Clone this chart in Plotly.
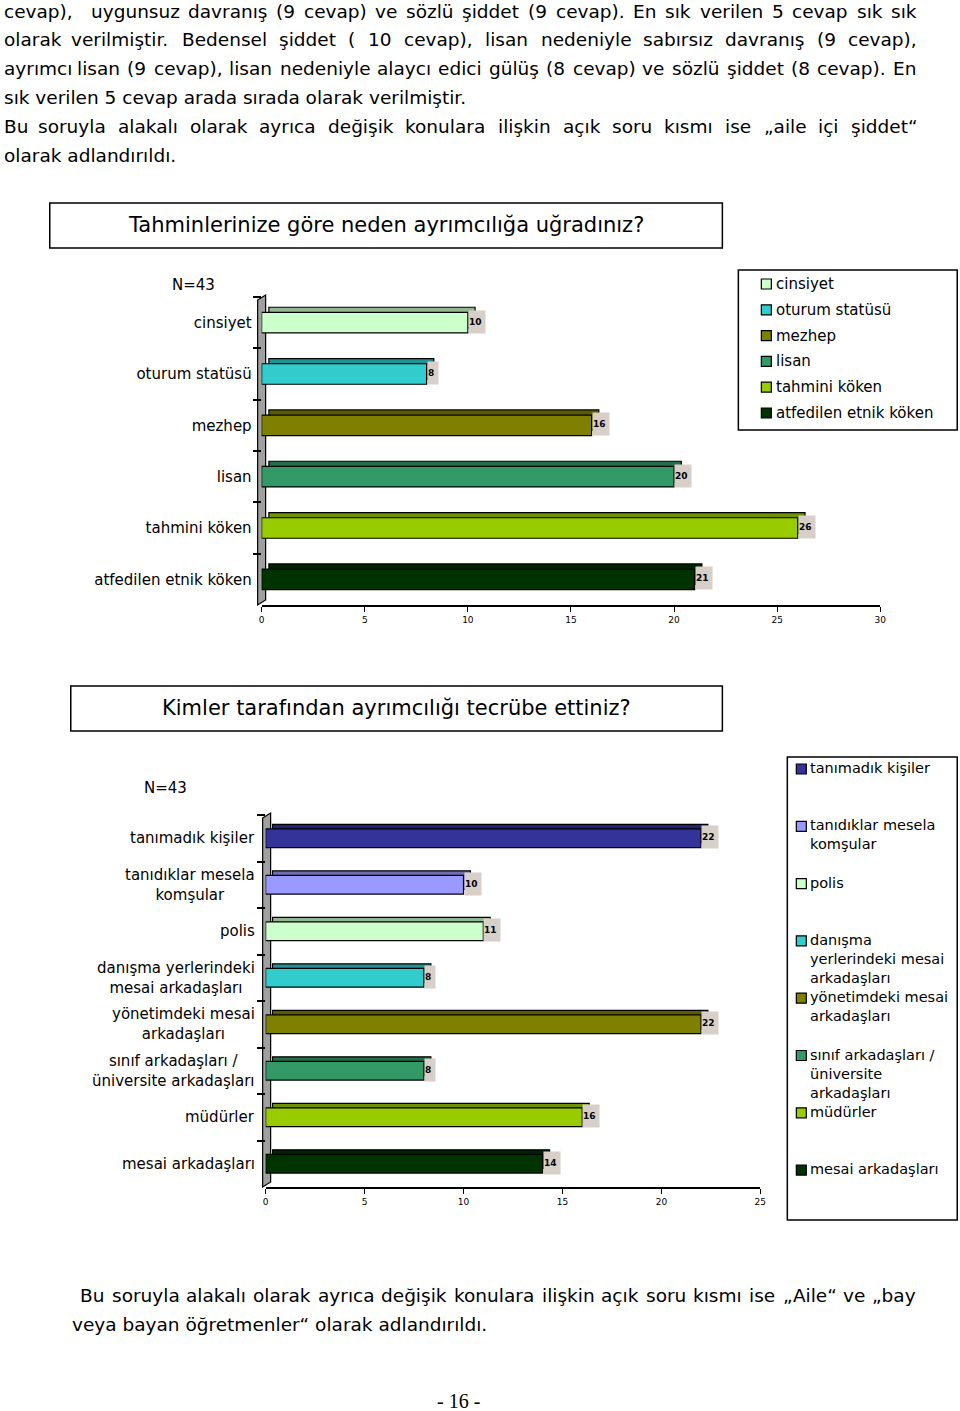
import plotly.graph_objects as go

W, H = 960, 1411      # reference page size (layout coordinates)
FIG_W = 968           # written figure width
SX, OX = 0.9913, 2.2  # measured page->picture horizontal mapping, compensated below

# ---------------- data ----------------
cat1 = ["cinsiyet", "oturum statüsü", "mezhep", "lisan", "tahmini köken", "atfedilen etnik köken"]
val1 = [10, 8, 16, 20, 26, 21]
col1 = ["#CCFFCC", "#33CCCC", "#808000", "#339966", "#99CC00", "#003300"]
ticks1 = [0, 5, 10, 15, 20, 25, 30]
title1 = "Tahminlerinize göre neden ayrımcılığa uğradınız?"

cat2 = ["tanımadık kişiler", "tanıdıklar mesela komşular", "polis",
        "danışma yerlerindeki mesai arkadaşları", "yönetimdeki mesai arkadaşları",
        "sınıf arkadaşları / üniversite arkadaşları", "müdürler", "mesai arkadaşları"]
lab2 = ["tanımadık kişiler", "tanıdıklar mesela<br>komşular", "polis",
        "danışma yerlerindeki<br>mesai arkadaşları", "yönetimdeki mesai<br>arkadaşları",
        "sınıf arkadaşları /<br>üniversite arkadaşları", "müdürler", "mesai arkadaşları"]
leg2 = ["tanımadık kişiler", "tanıdıklar mesela<br>komşular", "polis",
        "danışma<br>yerlerindeki mesai<br>arkadaşları", "yönetimdeki mesai<br>arkadaşları",
        "sınıf arkadaşları /<br>üniversite<br>arkadaşları", "müdürler", "mesai arkadaşları"]
val2 = [22, 10, 11, 8, 22, 8, 16, 14]
col2 = ["#333399", "#9999FF", "#CCFFCC", "#33CCCC", "#808000", "#339966", "#99CC00", "#003300"]
ticks2 = [0, 5, 10, 15, 20, 25]
title2 = "Kimler tarafından ayrımcılığı tecrübe ettiniz?"
n_label = "N=43"

# (text, justified?)
top_lines = [
    ("cevap),\u00a0\u00a0 uygunsuz davranış (9 cevap) ve sözlü şiddet (9 cevap). En sık verilen 5 cevap sık sık", True),
    ("olarak verilmiştir. Bedensel şiddet ( 10 cevap), lisan nedeniyle sabırsız davranış (9 cevap),", True),
    ("ayrımcı lisan (9 cevap), lisan nedeniyle alaycı edici gülüş (8 cevap) ve sözlü şiddet (8 cevap). En", True),
    ("sık verilen 5 cevap arada sırada olarak verilmiştir.", False),
    ("Bu soruyla alakalı olarak ayrıca değişik konulara ilişkin açık soru kısmı ise „aile içi şiddet“", True),
    ("olarak adlandırıldı.", False),
]
bottom_lines = [
    ("Bu soruyla alakalı olarak ayrıca değişik konulara ilişkin açık soru kısmı ise „Aile“ ve „bay", True),
    ("veya bayan öğretmenler“ olarak adlandırıldı.", False),
]
page_no = "- 16 -"

# ---------------- helpers ----------------
def px(x):
    return max(0.0, (x - OX) / SX) / FIG_W

def py(y):
    return 1 - y / H

def darken(hx, f=0.72):
    r, g, b = int(hx[1:3], 16), int(hx[3:5], 16), int(hx[5:7], 16)
    return "#%02X%02X%02X" % (int(r * f), int(g * f), int(b * f))

# approximate DejaVu Sans advance widths (units per 2048 em) for text justification
ADV = {' ': 651, '\u00a0': 651, '(': 799, ')': 799, ',': 651, '.': 651, '/': 690, '-': 739,
       '„': 1032, '“': 1032, '"': 942,
       'a': 1255, 'b': 1300, 'c': 1126, 'd': 1300, 'e': 1260, 'f': 721, 'g': 1300, 'h': 1298,
       'i': 569, 'ı': 569, 'j': 569, 'k': 1186, 'l': 569, 'm': 1995, 'n': 1298, 'o': 1253,
       'p': 1300, 'q': 1300, 'r': 842, 's': 1067, 'ş': 1067, 't': 803, 'u': 1298, 'ü': 1298,
       'v': 1212, 'w': 1675, 'x': 1212, 'y': 1212, 'z': 1075, 'ö': 1253, 'ç': 1126, 'ğ': 1300,
       'A': 1401, 'B': 1405, 'E': 1294}

def text_w(s, size):
    return SX * sum(ADV.get(ch, 1303 if ch.isdigit() else 1250) for ch in s) * size / 2048.0

AX_FONT = "DejaVu Sans, Verdana, sans-serif"
BODY_FONT = "DejaVu Sans, sans-serif"
TITLE_FONT = "DejaVu Sans, Tahoma, sans-serif"
BODY_SIZE = 18.5

fig = go.Figure()

# 3D-like bars: back face (darker, shifted) + front face
for cats, vals, cols, xa, ya, dx in [(cat1, val1, col1, "x", "y", 0.35),
                                     (cat2, val2, col2, "x2", "y2", 0.35)]:
    fig.add_trace(go.Bar(orientation="h", y=cats, x=vals, base=dx, width=0.4, offset=-0.3,
                         marker=dict(color=[darken(c) for c in cols], line=dict(color="black", width=1.2)),
                         xaxis=xa, yaxis=ya, showlegend=False, hoverinfo="skip"))
    fig.add_trace(go.Bar(orientation="h", y=cats, x=vals, width=0.4, offset=-0.2,
                         marker=dict(color=cols, line=dict(color="black", width=1.2)),
                         xaxis=xa, yaxis=ya, showlegend=False))

ann = []
shapes = []

def A(text, x, y, size, family, xanchor="left", yanchor="middle", **kw):
    ann.append(dict(text=text, x=px(x), y=py(y), xref="paper", yref="paper", showarrow=False,
                    xanchor=xanchor, yanchor=yanchor, borderpad=0,
                    font=dict(size=size, family=family, color="black"), **kw))

def R(x0, y0, x1, y1, lw=1.5, fill="rgba(0,0,0,0)", layer="above"):
    shapes.append(dict(type="rect", xref="paper", yref="paper", x0=px(x0), y0=py(y0), x1=px(x1), y1=py(y1),
                       line=dict(color="black", width=lw), fillcolor=fill, layer=layer))

def paragraph_line(text, justified, x0, x1, y, size):
    if not justified:
        A(text, x0, y, size, BODY_FONT)
        return
    words = text.split(" ")
    widths = [text_w(w, size) for w in words]
    gap = (x1 - x0 - sum(widths)) / (len(words) - 1)
    x = x0
    for w, wd in zip(words, widths):
        A(w, x, y, size, BODY_FONT)
        x += wd + gap

# value labels
for cats, vals, xa, ya in [(cat1, val1, "x", "y"), (cat2, val2, "x2", "y2")]:
    for c, v in zip(cats, vals):
        ann.append(dict(text="<b>%d</b>" % v, x=v, y=c, xref=xa, yref=ya, showarrow=False,
                        xanchor="left", yanchor="middle", bgcolor="#D8D0C8", height=22,
                        width=6 * len(str(v)) + 4, align="left", borderpad=0, yshift=1,
                        font=dict(size=9, family=AX_FONT, color="black")))

# chart 2 category labels (centered multi-line)
for c, t in zip(cat2, lab2):
    ann.append(dict(text=t, x=px(256), y=c, xref="paper", yref="y2", showarrow=False,
                    xanchor="right", yanchor="middle", align="center",
                    font=dict(size=15, family=AX_FONT, color="black")))

# walls
shapes.append(dict(type="path", xref="paper", yref="paper",
                   path="M %f %f L %f %f L %f %f L %f %f Z" % (px(257), py(300), px(265), py(295), px(265), py(600), px(257), py(605)),
                   fillcolor="#A0A0A0", line=dict(color="black", width=1.2), layer="below"))
shapes.append(dict(type="path", xref="paper", yref="paper",
                   path="M %f %f L %f %f L %f %f L %f %f Z" % (px(262), py(818), px(270), py(813), px(270), py(1182), px(262), py(1187)),
                   fillcolor="#A0A0A0", line=dict(color="black", width=1.2), layer="below"))

# title boxes
R(49, 203, 722, 248)
A(title1, 385.5, 225, 21, TITLE_FONT, xanchor="center")
R(70, 686, 722, 731)
A(title2, 396, 708, 21, TITLE_FONT, xanchor="center")

# N labels
A(n_label, 193, 285, 15, AX_FONT, xanchor="center")
A(n_label, 165, 788, 15, AX_FONT, xanchor="center")

# legend 1
R(738, 270, 957, 430)
for i, (c, col) in enumerate(zip(cat1, col1)):
    yc = 284 + 25.8 * i
    R(761, yc - 5, 771, yc + 5, lw=1.2, fill=col)
    A(c, 775, yc, 15, AX_FONT)

# legend 2
R(787, 757, 957, 1220)
for i, (t, col) in enumerate(zip(leg2, col2)):
    yc = 769 + 57.3 * i
    R(796, yc - 5, 806, yc + 5, lw=1.2, fill=col)
    A(t, 809, yc - 10, 14.5, AX_FONT, yanchor="top", align="left")

# body text
for i, (t, j) in enumerate(top_lines):
    paragraph_line(t, j, 0, 915, 11 + 28.9 * i, BODY_SIZE)
paragraph_line(bottom_lines[0][0], True, 78, 914, 1295, BODY_SIZE)
paragraph_line(bottom_lines[1][0], False, 70, 914, 1324, BODY_SIZE)
A(page_no, 458, 1401, 20, "Liberation Serif, Times New Roman, serif", xanchor="center")

common_x = dict(showgrid=False, zeroline=False, showline=True, linecolor="black", linewidth=1.5,
                ticks="outside", ticklen=5, tickwidth=1.2, tickcolor="black",
                tickfont=dict(size=9, family=AX_FONT, color="black"), fixedrange=True)
common_y = dict(showgrid=False, zeroline=False, showline=False, type="category", autorange="reversed",
                ticks="outside", tickson="boundaries", ticklen=8, tickwidth=1.5, tickcolor="black",
                tickfont=dict(size=15, family=AX_FONT, color="black"), fixedrange=True)

fig.update_layout(
    width=FIG_W, height=H, margin=dict(l=0, r=0, t=0, b=0),
    paper_bgcolor="white", plot_bgcolor="rgba(0,0,0,0)",
    barmode="overlay", showlegend=False,
    xaxis=dict(domain=[px(261), px(880)], range=[0, 30], tickvals=ticks1, anchor="y", **common_x),
    yaxis=dict(domain=[py(605), py(297)], anchor="x", ticklabelstandoff=9, **common_y),
    xaxis2=dict(domain=[px(265), px(760)], range=[0, 25], tickvals=ticks2, anchor="y2", **common_x),
    yaxis2=dict(domain=[py(1187), py(815)], anchor="x2", showticklabels=False, **common_y),
    annotations=ann, shapes=shapes,
)

fig.write_html("out.html", config={"displayModeBar": False},
               post_script="document.documentElement.style.overflow='hidden';"
                           "document.body.style.overflow='hidden';"
                           "document.body.style.margin='0';document.body.style.padding='0';")
